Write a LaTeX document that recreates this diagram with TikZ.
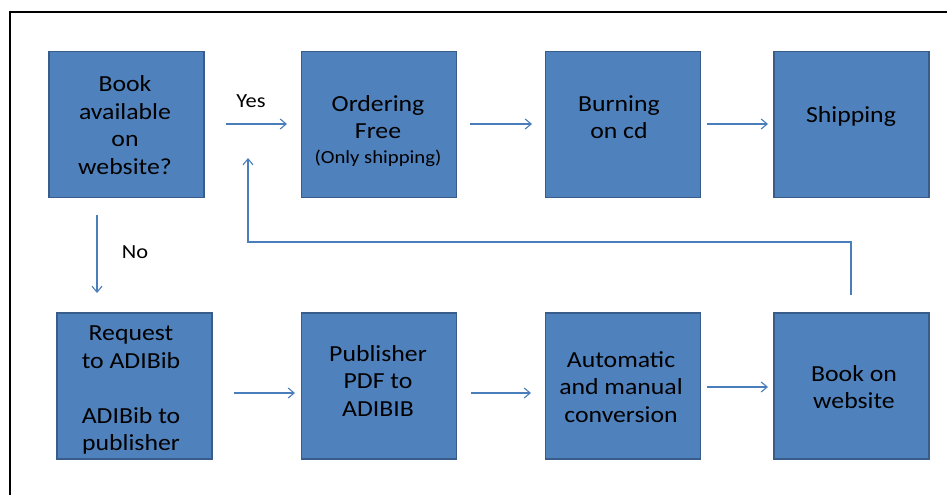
\documentclass[tikz,border=0pt]{standalone}
\usepackage{fontspec}
\setmainfont{Carlito}[FakeStretch=1.12]
\usetikzlibrary{arrows.meta}
\definecolor{boxfill}{HTML}{4F81BD}
\definecolor{boxline}{HTML}{385D8A}
\definecolor{arrowc}{HTML}{4A7EBB}
\begin{document}
\begin{tikzpicture}[x=1pt,y=-1pt,
  box/.style={draw=boxline,fill=boxfill,line width=1.6pt,inner sep=0pt,minimum width=155pt,minimum height=146pt},
  txt/.style={font=\fontsize{23}{27.5}\selectfont,align=center,text=black,inner sep=0pt},
  conn/.style={draw=arrowc,line width=1.1pt,-{Straight Barb[length=6pt,width=10pt]}}]
\useasboundingbox (0,0) rectangle (947,495);
\fill[white] (0,0) rectangle (947,495);
\draw[line width=2pt] (10,495) -- (10,12) -- (947,12);
% row 1
\node[box] (b1) at (126.5,124.5) {};
\node[box] (b2) at (379,124.5) {};
\node[box] (b3) at (623,124.5) {};
\node[box] (b4) at (851.5,124.5) {};
% row 2
\node[box] (b5) at (134.5,386) {};
\node[box] (b6) at (379,386) {};
\node[box] (b7) at (623,386) {};
\node[box] (b8) at (851.5,386) {};
% texts
\node[txt] (t1) at (125,125) {Book\\available\\on\\website?};
\node[txt] (t2) at (378,131) {Ordering\\Free\\[-3pt]{\fontsize{18.5}{22}\selectfont(Only shipping)}};
\node[txt] (t3) at (619,117) {Burning\\on cd};
\node[txt] (t4) at (851,116) {Shipping};
\node[txt] (t5) at (131,390) {Request\\to ADIBib\\[27.5pt]ADIBib to\\publisher};
\node[txt] (t6) at (378,381) {Publisher\\PDF to\\ADIBIB};
\node[txt] (t7) at (621,387) {Automatic\\and manual\\conversion};
\node[txt] (t8) at (854,387) {Book on\\website};
\node[txt,font=\fontsize{20}{24}\selectfont] (yes) at (251,101) {Yes};
\node[txt,font=\fontsize{20}{24}\selectfont] (no) at (135,252) {No};
% connector endpoints
\coordinate (y1) at (226,124);
\coordinate (y2) at (287,124);
\coordinate (a1) at (470,124);
\coordinate (a2) at (532,124);
\coordinate (c1) at (707,124);
\coordinate (c2) at (768,124);
\coordinate (n1) at (97,215);
\coordinate (n2) at (97,293);
\coordinate (d1) at (234,393);
\coordinate (d2) at (295,393);
\coordinate (e1) at (471,393);
\coordinate (e2) at (531,393);
\coordinate (f1) at (707,387);
\coordinate (f2) at (768,387);
\coordinate (r1) at (851,295);
\coordinate (r2) at (851,242);
\coordinate (r3) at (248,242);
\coordinate (r4) at (248,158);
\draw[conn] (y1) -- (y2);
\draw[conn] (a1) -- (a2);
\draw[conn] (c1) -- (c2);
\draw[conn] (n1) -- (n2);
\draw[conn] (d1) -- (d2);
\draw[conn] (e1) -- (e2);
\draw[conn] (f1) -- (f2);
\draw[conn] (r1) -- (r2) -- (r3) -- (r4);
\end{tikzpicture}
\end{document}
